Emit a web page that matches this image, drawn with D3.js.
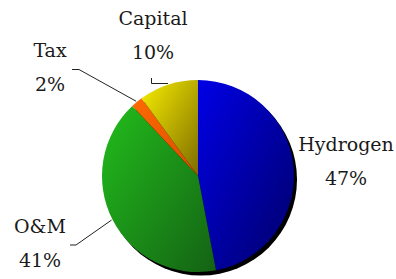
<!DOCTYPE html>
<html>
<head>
<meta charset="utf-8">
<script src="https://d3js.org/d3.v7.min.js"></script>
<style>
body { margin: 0; background: #fff; }
svg { display: block; }
</style>
</head>
<body>
<svg width="396" height="279"></svg>
<script>

// data, clockwise from 12 o'clock
let names = ["Hydrogen", "O&M", "Tax", "Capital"];
let shares = [47, 41, 2, 10];

// colours: light / dark end of each slice gradient
let lightCols = ["#0000e6", "#22bd1c", "#ff6a00", "#f7ee00"];
let darkCols = ["#000068", "#146214", "#d84c00", "#7e6c00"];

// layout
let cx = 198, cy = 176, radius = 96;
let labelAt = {
  "Hydrogen": [346, 151],
  "O&M": [40, 233],
  "Tax": [50, 57],
  "Capital": [153, 25]
};
let lineGap = 34;
// elbow points of leader lines (label side)
let elbows = {
  "O&M": [[70, 245], [76, 245]],
  "Tax": [[72, 69.5], [79, 69.5]],
  "Capital": [[151.5, 78], [151.5, 83.5]]
};

let svg = d3.select("svg");
let defs = svg.append("defs");

names.forEach(function(n, i) {
  let g = defs.append("linearGradient")
    .attr("id", "grad" + i)
    .attr("x1", 0).attr("y1", 0).attr("x2", 1).attr("y2", 1);
  g.append("stop").attr("offset", "0%").attr("stop-color", lightCols[i]);
  g.append("stop").attr("offset", "100%").attr("stop-color", darkCols[i]);
});

let pie = d3.pie().sort(null).value(d => d);
let arcs = pie(shares);
let arc = d3.arc().innerRadius(0).outerRadius(radius);

let chart = svg.append("g").attr("transform", "translate(" + cx + "," + cy + ")");

// shadow
chart.append("circle")
  .attr("cx", 3).attr("cy", 3.5)
  .attr("r", radius)
  .attr("fill", "#000");

chart.selectAll("path.slice")
  .data(arcs)
  .enter().append("path")
  .attr("class", "slice")
  .attr("d", arc)
  .attr("fill", (d, i) => "url(#grad" + i + ")")
  .attr("stroke", "none");

// leader lines
arcs.forEach(function(d, i) {
  let e = elbows[names[i]];
  if (!e) return;
  let mid = (d.startAngle + d.endAngle) / 2;
  let r = radius + 1;
  let end = [cx + r * Math.sin(mid), cy - r * Math.cos(mid)];
  let pts = e.concat([end]);
  if (names[i] == "Capital") pts = [e[0], e[1], [end[0], e[1][1]]];
  svg.append("polyline")
    .attr("points", pts.map(p => p.join(",")).join(" "))
    .attr("fill", "none")
    .attr("stroke", "#222")
    .attr("stroke-width", 1);
});

// labels
arcs.forEach(function(d, i) {
  let p = labelAt[names[i]];
  let t = svg.append("text")
    .attr("font-family", "DejaVu Serif")
    .attr("font-size", 19)
    .attr("fill", "#1a1a1a")
    .attr("text-anchor", "middle")
    .attr("x", p[0]).attr("y", p[1]);
  t.append("tspan").attr("x", p[0]).text(names[i]);
  t.append("tspan").attr("x", p[0]).attr("dy", lineGap).text(shares[i] + "%");
});

</script>
</body>
</html>
